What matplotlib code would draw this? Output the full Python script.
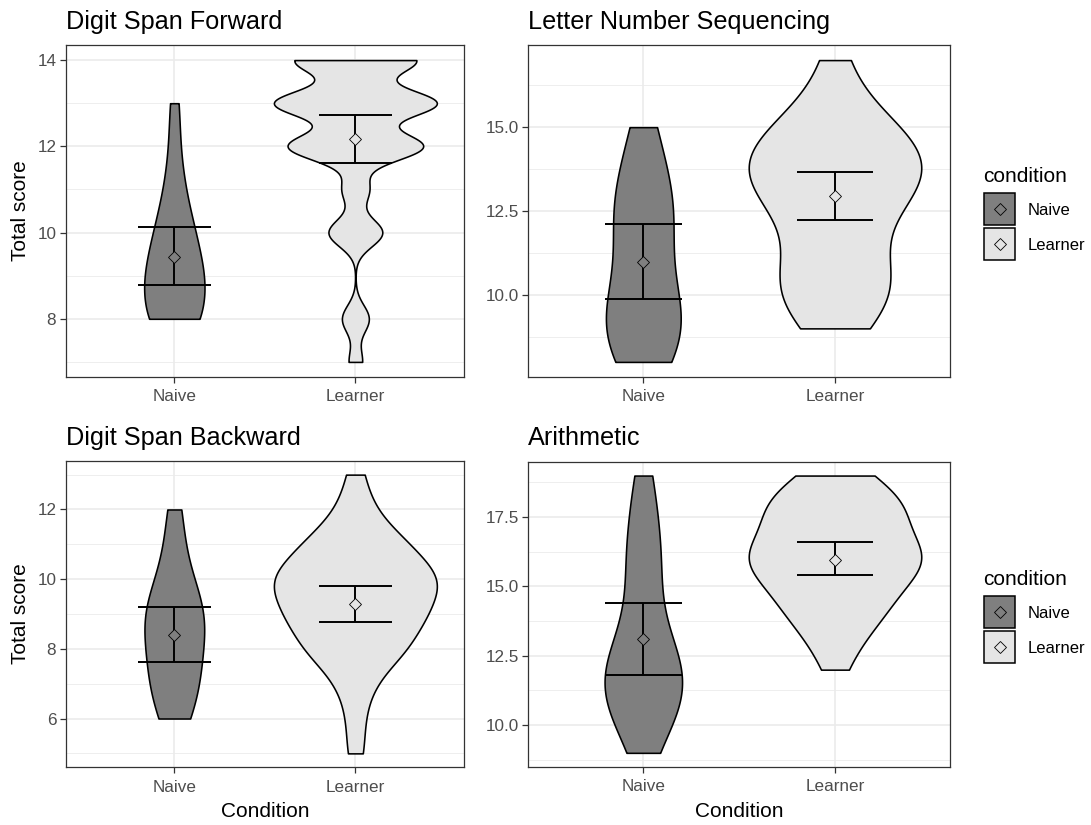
import numpy as np
import matplotlib
matplotlib.use('Agg')
import matplotlib.pyplot as plt
from matplotlib.patches import Rectangle
from matplotlib.lines import Line2D

plt.rcParams['font.family'] = ['Liberation Sans', 'DejaVu Sans']

conditions = ['Naive', 'Learner']
fills = ['#7F7F7F', '#E5E5E5']

# counts per score
dsf_scores = [7, 8, 9, 10, 11, 12, 13, 14]
dsf_naive = [0, 6, 6, 4, 2, 1, 1, 0]
dsf_learner = [1, 2, 0, 4, 2, 10, 12, 9]
dsf_mean = [9.44, 12.17]
dsf_low = [8.78, 11.61]
dsf_high = [10.12, 12.73]

lns_scores = [8, 9, 10, 11, 12, 13, 14, 15, 16, 17]
lns_naive = [2, 3, 2, 1, 2, 2, 1, 1, 0, 0]
lns_learner = [0, 2, 4, 3, 2, 5, 6, 4, 1, 1]
lns_mean = [10.99, 12.95]
lns_low = [9.88, 12.23]
lns_high = [12.10, 13.65]

dsb_scores = [5, 6, 7, 8, 9, 10, 11, 12, 13]
dsb_naive = [0, 2, 3, 3, 4, 2, 1, 1, 0]
dsb_learner = [1, 1, 2, 6, 8, 10, 6, 2, 1]
dsb_mean = [8.39, 9.29]
dsb_low = [7.61, 8.77]
dsb_high = [9.20, 9.80]

ari_scores = [9, 10, 11, 12, 13, 14, 15, 16, 17, 18, 19]
ari_naive = [1, 2, 4, 4, 2, 1, 1, 2, 1, 1, 1]
ari_learner = [0, 0, 0, 1, 2, 4, 5, 8, 5, 6, 3]
ari_mean = [13.10, 15.97]
ari_low = [11.81, 15.41]
ari_high = [14.40, 16.59]


def violin_profile(scores, counts):
    # gaussian kde with R's nrd0 bandwidth, trimmed to the data range, scaled by n
    x = np.repeat(scores, counts).astype(float)
    n = len(x)
    q75, q25 = np.percentile(x, [75, 25])
    bw = 0.9 * min(x.std(ddof=1), (q75 - q25) / 1.34) * n ** -0.2
    y = np.linspace(x.min(), x.max(), 512)
    dens = np.exp(-0.5 * ((y[:, None] - x[None, :]) / bw) ** 2).sum(axis=1)
    dens = dens / (n * bw * np.sqrt(2 * np.pi))
    return y, dens * n


def draw_panel(ax, scores, naive, learner, mean, low, high, ticks, fmt):
    profiles = [violin_profile(scores, naive), violin_profile(scores, learner)]
    top = max(p[1].max() for p in profiles)
    for i, (y, w) in enumerate(profiles):
        pos = i + 1
        half = 0.45 * w / top
        ax.fill_betweenx(y, pos - half, pos + half, facecolor=fills[i],
                         edgecolor='black', lw=1.15, zorder=2)
        ax.vlines(pos, low[i], high[i], color='black', lw=1.4, zorder=3)
        ax.hlines([low[i], high[i]], pos - 0.2, pos + 0.2, color='black', lw=1.4, zorder=3)
        ax.plot(pos, mean[i], marker='D', ms=6.3, mfc=fills[i], mec='black', mew=0.6,
                ls='none', zorder=4)

    used = [s for s, a, b in zip(scores, naive, learner) if a + b > 0]
    lo, hi = min(used), max(used)
    pad = 0.05 * (hi - lo)
    ax.set_ylim(lo - pad, hi + pad)
    ax.set_xlim(0.4, 2.6)

    step = ticks[1] - ticks[0]
    minor = [t - step / 2 for t in ticks] + [ticks[-1] + step / 2]
    minor = [m for m in minor if lo - pad <= m <= hi + pad]
    ax.set_yticks(ticks)
    ax.set_yticklabels([fmt.format(t) for t in ticks])
    ax.set_yticks(minor, minor=True)
    ax.set_xticks([1, 2])
    ax.set_xticklabels(conditions)

    ax.set_axisbelow(True)
    ax.grid(which='major', color='#EBEBEB', lw=1.2)
    ax.grid(which='minor', axis='y', color='#EBEBEB', lw=0.6)
    ax.tick_params(which='major', direction='out', length=4.3, width=0.9,
                   color='#333333', labelsize=12.3, labelcolor='#4D4D4D', pad=2.5)
    ax.tick_params(axis='x', which='major', pad=4.5)
    ax.tick_params(which='minor', length=0)
    for sp in ax.spines.values():
        sp.set_color('#333333')
        sp.set_linewidth(0.9)


W, H = 1091, 825
fig = plt.figure(figsize=(W / 100, H / 100), dpi=100)


def box(x0, y0, x1, y1):
    return [x0 / W, 1 - y1 / H, (x1 - x0) / W, (y1 - y0) / H]


ax1 = fig.add_axes(box(65.7, 45, 464, 377))
ax2 = fig.add_axes(box(528.3, 45, 950, 377))
ax3 = fig.add_axes(box(65.7, 460.7, 464, 767.3))
ax4 = fig.add_axes(box(528.3, 461.7, 950, 766.7))

draw_panel(ax1, dsf_scores, dsf_naive, dsf_learner, dsf_mean, dsf_low, dsf_high,
           [8, 10, 12, 14], '{:.0f}')
draw_panel(ax2, lns_scores, lns_naive, lns_learner, lns_mean, lns_low, lns_high,
           [10, 12.5, 15], '{:.1f}')
draw_panel(ax3, dsb_scores, dsb_naive, dsb_learner, dsb_mean, dsb_low, dsb_high,
           [6, 8, 10, 12], '{:.0f}')
draw_panel(ax4, ari_scores, ari_naive, ari_learner, ari_mean, ari_low, ari_high,
           [10, 12.5, 15, 17.5], '{:.1f}')

# titles and axis labels
fig.text(66 / W, 1 - 29.3 / H, 'Digit Span Forward', fontsize=18.2, va='baseline', ha='left')
fig.text(528.3 / W, 1 - 29.3 / H, 'Letter Number Sequencing', fontsize=18.2, va='baseline', ha='left')
fig.text(66 / W, 1 - 445 / H, 'Digit Span Backward', fontsize=18.2, va='baseline', ha='left')
fig.text(528.3 / W, 1 - 445 / H, 'Arithmetic', fontsize=18.2, va='baseline', ha='left')

fig.text(21 / W, 1 - 211 / H, 'Total score', fontsize=15, rotation=90, ha='center', va='center')
fig.text(21 / W, 1 - 614 / H, 'Total score', fontsize=15, rotation=90, ha='center', va='center')
fig.text((65.7 + 464) / 2 / W, 1 - 817 / H, 'Condition', fontsize=15, ha='center', va='baseline')
fig.text((528.3 + 950) / 2 / W, 1 - 817 / H, 'Condition', fontsize=15, ha='center', va='baseline')

# legends (one per row), drawn in figure pixel positions
key_tops = [193.3, 227.7]
key_h = 32.0
for dy in [0, 403]:
    fig.text(983.3 / W, 1 - (181.7 + dy) / H, 'condition', fontsize=15,
             ha='left', va='baseline')
    for i, f in enumerate(fills):
        top = key_tops[i] + dy
        fig.add_artist(Rectangle((984 / W, 1 - (top + key_h) / H), 31 / W, key_h / H,
                                 transform=fig.transFigure, facecolor=f,
                                 edgecolor='black', lw=1.1))
        fig.add_artist(Line2D([999.5 / W], [1 - (top + key_h / 2) / H],
                              transform=fig.transFigure, marker='D', ls='none', ms=6.3,
                              mfc=f, mec='black', mew=0.6))
        fig.text(1027.7 / W, 1 - (top + key_h / 2) / H, conditions[i], fontsize=12,
                 ha='left', va='center_baseline')

fig.savefig('out.png', dpi=100)
